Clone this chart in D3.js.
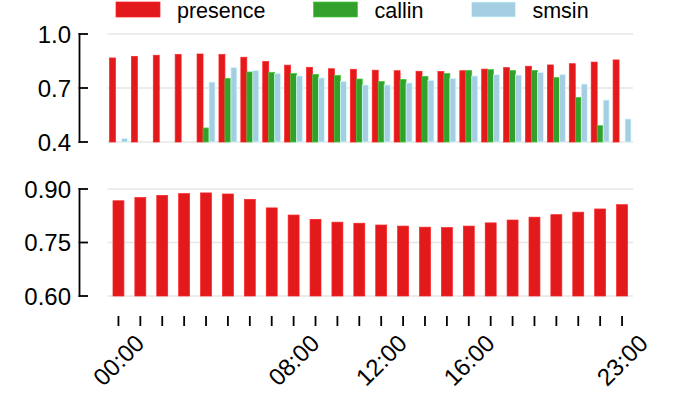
<!DOCTYPE html>
<html><head><meta charset="utf-8">
<script src="https://cdn.jsdelivr.net/npm/d3@7"></script>
<style>body{margin:0;background:#fff}svg{display:block;font-family:"Liberation Sans",Arial,sans-serif}</style>
</head><body><svg id="c" width="676" height="417"></svg>
<script>
const hours = d3.range(24);
const seriesNames = ["presence","callin","smsin"];
const colors = ["#e31a1c","#33a02c","#a6cee3"];
const presence = [0.867,0.876,0.882,0.887,0.889,0.886,0.871,0.847,0.827,0.815,0.807,0.804,0.799,0.796,0.793,0.792,0.796,0.805,0.813,0.821,0.828,0.835,0.844,0.856];
const callin = [null,null,null,null,0.478,0.754,0.789,0.787,0.781,0.776,0.770,0.750,0.737,0.748,0.765,0.781,0.798,0.802,0.798,0.798,0.759,0.648,0.491,null];
const smsin = [0.42,null,null,null,0.733,0.815,0.798,0.781,0.767,0.756,0.737,0.717,0.717,0.728,0.743,0.754,0.767,0.774,0.772,0.787,0.776,0.722,0.633,0.528];
const xTickLabels = {0:"00:00",8:"08:00",12:"12:00",16:"16:00",23:"23:00"};
const topTicks = [0.4,0.7,1.0];
const botTicks = [0.60,0.75,0.90];

const svg = d3.select("#c");
const x = d3.scaleBand().domain(hours).range([107.5,633]).padding(0);
const step = x.step();
const yTop = d3.scaleLinear().domain([0.4,1.0]).range([142,34]);
const yBot = d3.scaleLinear().domain([0.6,0.9]).range([296,189]);
const sub = d3.scaleBand().domain(seriesNames).range([-step*0.41, step*0.41]);
const seriesData = [presence, callin, smsin];

function grid(y, ticks){
  svg.append("g").selectAll("line").data(ticks).join("line")
    .attr("x1",107.5).attr("x2",633).attr("y1",d=>y(d)).attr("y2",d=>y(d))
    .attr("stroke","#e6e6e6").attr("stroke-width",1.6);
}
function yaxis(y, ticks, fmt){
  const g = svg.append("g");
  g.append("line").attr("x1",79.5).attr("x2",79.5).attr("y1",y(ticks[0])+1).attr("y2",y(ticks[ticks.length-1])-1)
    .attr("stroke","#000").attr("stroke-width",1.8);
  g.selectAll("line.t").data(ticks).join("line").attr("class","t")
    .attr("x1",78.6).attr("x2",88).attr("y1",d=>y(d)).attr("y2",d=>y(d))
    .attr("stroke","#000").attr("stroke-width",1.8);
  g.selectAll("text").data(ticks).join("text")
    .attr("x",71).attr("y",d=>y(d)).attr("dy","0.36em").attr("text-anchor","end")
    .attr("font-size",24).attr("fill","#000").text(fmt);
}
grid(yTop, topTicks); grid(yBot, botTicks);
yaxis(yTop, topTicks, d3.format(".1f"));
yaxis(yBot, botTicks, d3.format(".2f"));

// top grouped bars
seriesNames.forEach((s,i)=>{
  const vals = hours.map(h=>({h, v: seriesData[i][h]})).filter(d=>d.v!=null);
  svg.append("g").selectAll("rect").data(vals).join("rect")
    .attr("x",d=>x(d.h)+step/2+sub(s))
    .attr("width",sub.bandwidth())
    .attr("y",d=>yTop(d.v))
    .attr("height",d=>yTop(0.4)-yTop(d.v))
    .attr("fill",colors[i])
    .attr("stroke",d3.color(colors[i]).brighter(0.7))
    .attr("stroke-width",0.7);
});
// bottom bars
svg.append("g").selectAll("rect").data(hours).join("rect")
  .attr("x",h=>x(h)+step*0.25).attr("width",step*0.5)
  .attr("y",h=>yBot(presence[h])).attr("height",h=>yBot(0.6)-yBot(presence[h]))
  .attr("fill",colors[0]).attr("stroke",d3.color(colors[0]).brighter(0.7)).attr("stroke-width",0.7);

// x ticks
svg.append("g").selectAll("line").data(hours).join("line")
  .attr("x1",h=>x(h)+step/2).attr("x2",h=>x(h)+step/2).attr("y1",316).attr("y2",326)
  .attr("stroke","#000").attr("stroke-width",1.8);
svg.append("g").selectAll("text").data(Object.keys(xTickLabels).map(Number)).join("text")
  .attr("transform",h=>`translate(${x(h)+step/2},360) rotate(-45)`)
  .attr("text-anchor","middle").attr("dy","0.36em").attr("font-size",24).attr("fill","#000")
  .text(h=>xTickLabels[h]);

// legend
let lx = 116;
seriesNames.forEach((s,i)=>{
  svg.append("rect").attr("x",lx).attr("y",2).attr("width",44).attr("height",15)
    .attr("fill",colors[i]).attr("stroke",d3.color(colors[i]).brighter(0.7)).attr("stroke-width",0.7);
  const t = svg.append("text").attr("x",lx+61).attr("y",17.5).attr("font-size",21.5).attr("fill","#000").text(s);
  lx = lx + 61 + t.node().getComputedTextLength() + 48;
});
</script></body></html>
